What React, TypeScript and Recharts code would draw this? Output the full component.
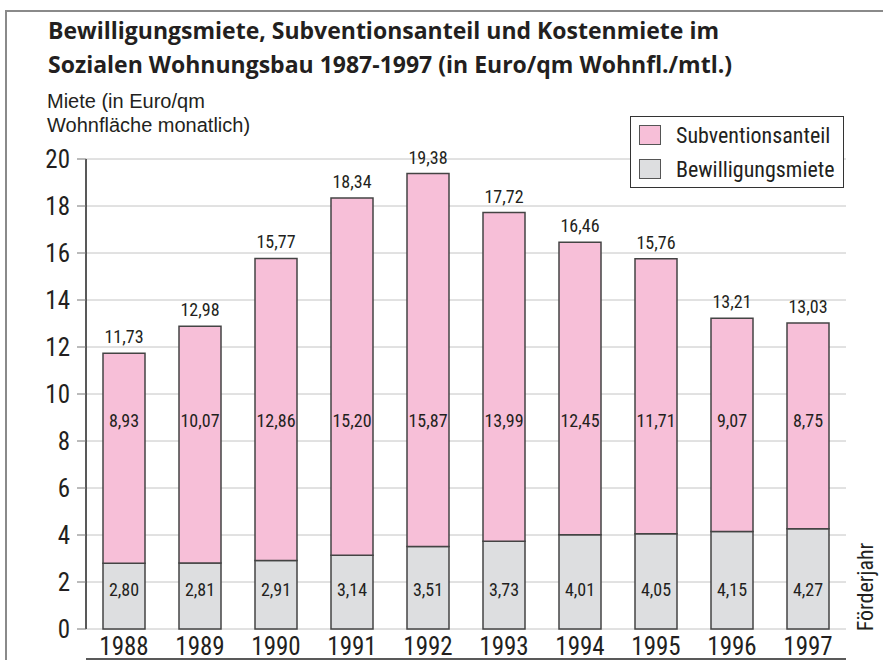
import React from 'react';
import { BarChart, Bar, XAxis, YAxis, CartesianGrid, Legend, LabelList } from 'recharts';

const years = ['1988', '1989', '1990', '1991', '1992', '1993', '1994', '1995', '1996', '1997'];
const bewilligungsmiete = [2.8, 2.81, 2.91, 3.14, 3.51, 3.73, 4.01, 4.05, 4.15, 4.27];
const subventionsanteil = [8.93, 10.07, 12.86, 15.2, 15.87, 13.99, 12.45, 11.71, 9.07, 8.75];
const kostenmiete = [11.73, 12.98, 15.77, 18.34, 19.38, 17.72, 16.46, 15.76, 13.21, 13.03];
const yTicks = [0, 2, 4, 6, 8, 10, 12, 14, 16, 18, 20];
const separatorTicks = [1, 2, 3, 4, 5, 6, 7, 8, 9];

const data = years.map((y, i) => ({
  year: y,
  bewilligung: bewilligungsmiete[i],
  subvention: subventionsanteil[i],
  kosten: kostenmiete[i],
}));

const W = 883;
const H = 660;
const MARGIN = { top: 159, right: 37, bottom: 0, left: 26 };
const Y_AXIS_W = 60;
const SEP_AXIS_H = 1;
const CAT_AXIS_H = 30;
const PLOT_BOTTOM = H - MARGIN.bottom - SEP_AXIS_H - CAT_AXIS_H;

const FONT = "'Liberation Sans Narrow', 'Roboto Condensed', 'DejaVu Sans Condensed', sans-serif";
const TITLE_FONT = "'Open Sans', 'Liberation Sans', sans-serif";
const SUB_FONT = "'Liberation Sans', Arial, sans-serif";
const TEXT = '#231f20';
const PINK = '#f7bfd8';
const GREY = '#dddee0';
const STROKE = '#444';

const fmt = (v: number) => v.toFixed(2).replace('.', ',');

const makeFixedLabel = (offsetFromBottom: number) => (props: any) => {
  const { x, width, value } = props;
  return (
    <text
      x={Number(x) + Number(width) / 2}
      y={PLOT_BOTTOM - offsetFromBottom}
      textAnchor="middle"
      fontSize={18}
      fontFamily={FONT}
      fill={TEXT}
    >
      {fmt(Number(value))}
    </text>
  );
};

const renderLegend = (props: any) => {
  const items = [...(props.payload || [])].reverse();
  return (
    <div
      style={{
        border: '1px solid #333',
        background: '#fff',
        width: 212,
        padding: '1px 0',
        fontFamily: FONT,
        color: TEXT,
        fontSize: 22,
      }}
    >
      {items.map((it: any) => (
        <div key={it.value} style={{ display: 'flex', alignItems: 'center', height: 34 }}>
          <div
            style={{
              width: 20,
              height: 18,
              marginLeft: 8,
              marginRight: 15,
              background: it.color,
              border: '1px solid #555',
            }}
          />
          <span>{it.value}</span>
        </div>
      ))}
    </div>
  );
};

export default function App() {
  return (
    <div
      style={{
        position: 'absolute',
        left: 0,
        top: 0,
        width: W,
        height: H,
        overflow: 'hidden',
        background: '#fff',
        fontFamily: FONT,
        color: TEXT,
      }}
    >
      <div
        style={{
          position: 'absolute',
          left: 5,
          top: 10,
          width: 1000,
          height: 1000,
          borderTop: '2px solid #8a8a8a',
          borderLeft: '2px solid #8a8a8a',
        }}
      />
      <div
        style={{
          position: 'absolute',
          left: 48,
          top: 13,
          fontFamily: TITLE_FONT,
          fontSize: 23,
          lineHeight: '34px',
          fontWeight: 'bold',
          whiteSpace: 'nowrap',
        }}
      >
        Bewilligungsmiete, Subventionsanteil und Kostenmiete im
        <br />
        Sozialen Wohnungsbau 1987-1997 (in Euro/qm Wohnfl./mtl.)
      </div>
      <div
        style={{
          position: 'absolute',
          left: 47,
          top: 89,
          fontFamily: SUB_FONT,
          fontSize: 20,
          lineHeight: '24px',
          whiteSpace: 'nowrap',
        }}
      >
        Miete (in Euro/qm
        <br />
        Wohnfläche monatlich)
      </div>
      <div
        style={{
          position: 'absolute',
          left: 865,
          top: 587,
          fontSize: 22,
          whiteSpace: 'nowrap',
          transform: 'translate(-50%, -50%) rotate(-90deg)',
        }}
      >
        Förderjahr
      </div>
      <div style={{ position: 'absolute', left: 0, top: 0 }}>
        <BarChart width={W} height={H} data={data} margin={MARGIN} barSize={42}>
          <CartesianGrid horizontal vertical={false} stroke="#c4c4c4" strokeWidth={1} />
          <XAxis
            xAxisId="sep"
            type="number"
            domain={[0, 10]}
            allowDataOverflow
            ticks={separatorTicks}
            tick={false}
            tickSize={-11}
            height={SEP_AXIS_H}
            axisLine={{ stroke: '#222', strokeWidth: 1.5 }}
            tickLine={{ stroke: '#222', strokeWidth: 1.5 }}
          />
          <XAxis
            xAxisId="cat"
            dataKey="year"
            height={CAT_AXIS_H}
            axisLine={false}
            tickLine={false}
            tickSize={0}
            tickMargin={8}
            interval={0}
            tick={{ fontSize: 25, fontFamily: FONT, fill: TEXT }}
          />
          <YAxis
            width={Y_AXIS_W}
            domain={[0, 20]}
            ticks={yTicks}
            interval={0}
            tickSize={9}
            tickMargin={7}
            axisLine={{ stroke: '#222', strokeWidth: 1.5 }}
            tickLine={{ stroke: '#777', strokeWidth: 1 }}
            tick={{ fontSize: 25, fontFamily: FONT, fill: TEXT }}
          />
          <Legend
            content={renderLegend}
            layout="vertical"
            align="center"
            verticalAlign="middle"
            wrapperStyle={{ position: 'absolute', left: 630, top: 116, width: 216 }}
          />
          <Bar
            xAxisId="cat"
            dataKey="bewilligung"
            name="Bewilligungsmiete"
            stackId="a"
            fill={GREY}
            stroke={STROKE}
            strokeWidth={1.5}
            isAnimationActive={false}
          >
            <LabelList dataKey="bewilligung" content={makeFixedLabel(33)} />
          </Bar>
          <Bar
            xAxisId="cat"
            dataKey="subvention"
            name="Subventionsanteil"
            stackId="a"
            fill={PINK}
            stroke={STROKE}
            strokeWidth={1.5}
            isAnimationActive={false}
          >
            <LabelList dataKey="subvention" content={makeFixedLabel(202)} />
            <LabelList
              dataKey="kosten"
              position="top"
              offset={10}
              formatter={(v: any) => fmt(Number(v))}
              style={{ fontSize: 18, fontFamily: FONT, fill: TEXT }}
            />
          </Bar>
        </BarChart>
      </div>
    </div>
  );
}
